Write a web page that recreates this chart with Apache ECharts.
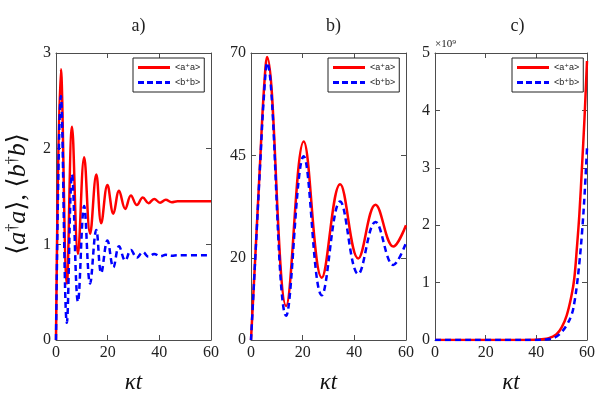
<!DOCTYPE html>
<html>
<head>
<meta charset="utf-8">
<script src="https://cdn.jsdelivr.net/npm/echarts@6/dist/echarts.min.js"></script>
<style>
  html, body { margin: 0; padding: 0; background: #fff; }
  #chart { width: 598px; height: 399px; }
</style>
</head>
<body>
<div id="chart"></div>
<script>
// panel a) -- times (kappa t) and populations
const tA = [0, 1.9, 4.2, 6.2, 8.5, 10.9, 13.2, 15.6, 17.5, 19.9, 22.2, 24.4, 26.8, 29.0, 31.3, 33.6, 35.8, 38.0, 40.3, 42.5, 44.8, 47, 60]
const aA = [0, 2.83, 0.59, 2.23, 0.9, 1.91, 1.11, 1.73, 1.22, 1.62, 1.32, 1.56, 1.37, 1.51, 1.41, 1.49, 1.43, 1.475, 1.435, 1.465, 1.44, 1.45, 1.45]
const bA = [0, 2.55, 0.18, 1.73, 0.4, 1.4, 0.59, 1.15, 0.7, 1.04, 0.76, 0.98, 0.83, 0.94, 0.86, 0.92, 0.87, 0.9, 0.875, 0.89, 0.88, 0.885, 0.885]

// panel b)
const tB = [0, 1.7, 3.6, 4.9, 6.2, 13.6, 20.4, 27.4, 34.5, 41.5, 48.2, 55.1, 60]
const aB = [0, 20.8, 44.4, 60, 69, 8.3, 48.4, 15.2, 38, 19.9, 33, 22.8, 28]
const bB = [0, 20.5, 43.5, 58.5, 67.6, 5.9, 44.8, 10.9, 33.8, 16.1, 28.8, 18.3, 23.7]
const yTicksB = [0, 20, 45, 70]

// panel c) -- values in units of 1e9
const tC = [0, 10, 20, 30, 40, 44, 46, 48, 50, 52, 54, 55, 56, 57, 58, 59, 60]
const aC = [0, 0, 0, 0, 0.004, 0.02, 0.05, 0.1, 0.22, 0.43, 0.8, 1.08, 1.6, 2.2, 3.0, 3.85, 4.86]
const bC = [0, 0, 0, 0, 0.002, 0.01, 0.025, 0.06, 0.14, 0.26, 0.45, 0.65, 0.95, 1.35, 1.85, 2.5, 3.34]

const titles = ['a)', 'b)', 'c)']
const names = ['<a⁺a>', '<b⁺b>']

const serif = 'Liberation Serif, DejaVu Serif, serif'
const axisColor = '#4d4d4d'
const grids = [
  { left: 56, top: 53, width: 155, height: 298 },
  { left: 251, top: 53, width: 155, height: 298 },
  { left: 435, top: 53, width: 155, height: 298 }
]
const yMax = [3, 70, 5]

// legend samples: solid bar and dashed bar
const solidIcon = 'path://M0,0H32V3H0Z'
const dashIcon = 'path://M0,0H6V3H0Z M9,0H15V3H9Z M18,0H24V3H18Z M27,0H32V3H27Z'

const pairs = (t, v) => t.map((x, i) => [x, v[i]])

const chart = echarts.init(document.getElementById('chart'))

const xAxis = []
const yAxis = []
grids.forEach((g, i) => {
  const base = {
    gridIndex: i,
    type: 'value',
    min: 0,
    max: 60,
    interval: 20,
    axisLine: { onZero: false, lineStyle: { color: axisColor, width: 1 } },
    axisTick: { inside: true, length: 5, lineStyle: { color: axisColor } },
    splitLine: { show: false }
  }
  xAxis.push(Object.assign({}, base, {
    position: 'bottom',
    axisLabel: { color: '#222', fontFamily: serif, fontSize: 16, margin: 5 },
    name: 'κt',
    nameLocation: 'middle',
    nameGap: 31,
    nameTextStyle: { color: '#111', fontFamily: serif, fontStyle: 'italic', fontSize: 23 }
  }))
  xAxis.push(Object.assign({}, base, { position: 'top', axisLabel: { show: false } }))

  const ybase = {
    gridIndex: i,
    type: 'value',
    min: 0,
    max: yMax[i],
    axisLine: { show: true, onZero: false, lineStyle: { color: axisColor, width: 1 } },
    axisTick: { show: true, inside: true, length: 5, lineStyle: { color: axisColor } },
    splitLine: { show: false }
  }
  if (i === 1) {
    ybase.axisTick.customValues = yTicksB
  } else {
    ybase.interval = 1
  }
  const leftLabel = { color: '#222', fontFamily: serif, fontSize: 16, margin: 5 }
  if (i === 1) leftLabel.customValues = yTicksB
  yAxis.push(Object.assign({}, ybase, { position: 'left', axisLabel: leftLabel }))
  yAxis.push(Object.assign({}, ybase, { position: 'right', axisLabel: { show: false } }))
})

const data = [[tA, aA, bA], [tB, aB, bB], [tC, aC, bC]]
const series = []
data.forEach((d, i) => {
  series.push({
    name: names[0],
    type: 'line',
    xAxisIndex: i * 2,
    yAxisIndex: i * 2,
    data: pairs(d[0], d[1]),
    symbol: 'none',
    smooth: 0.4,
    lineStyle: { color: '#ff0000', width: 2.5 },
    itemStyle: { color: '#ff0000' },
    animation: false
  })
  series.push({
    name: names[1],
    type: 'line',
    xAxisIndex: i * 2,
    yAxisIndex: i * 2,
    data: pairs(d[0], d[2]),
    symbol: 'none',
    smooth: 0.4,
    lineStyle: { color: '#0000ff', width: 2.5, type: [6, 4] },
    itemStyle: { color: '#0000ff' },
    animation: false
  })
})

chart.setOption({
  backgroundColor: '#fff',
  title: grids.map((g, i) => ({
    text: titles[i],
    left: g.left + g.width / 2,
    top: 12,
    textAlign: 'center',
    textStyle: { fontFamily: serif, fontWeight: 'normal', fontSize: 18, color: '#222' }
  })),
  legend: grids.map((g, i) => ({
    orient: 'vertical',
    left: g.left + g.width - 78,
    top: 58,
    data: [{ name: names[0], icon: solidIcon }, { name: names[1], icon: dashIcon }],
    selectedMode: false,
    backgroundColor: '#fff',
    borderColor: '#222',
    borderWidth: 1,
    borderRadius: 0,
    padding: [5, 4, 5, 5],
    itemGap: 6,
    itemWidth: 32,
    itemHeight: 10,
    textStyle: { fontFamily: 'Liberation Sans, DejaVu Sans, sans-serif', fontSize: 9, color: '#222' }
  })),
  grid: grids,
  xAxis: xAxis,
  yAxis: yAxis,
  series: series,
  graphic: [
    {
      type: 'text',
      x: 18,
      y: 194,
      rotation: Math.PI / 2,
      style: {
        text: '⟨{i|a}{s|†}{i|a}⟩, ⟨{i|b}{s|†}{i|b}⟩',
        font: '26px ' + serif,
        fill: '#111',
        textAlign: 'center',
        textVerticalAlign: 'middle',
        rich: {
          i: { fontStyle: 'italic', fontSize: 26, fontFamily: serif },
          s: { fontSize: 16, fontFamily: serif, verticalAlign: 'top' }
        }
      }
    },
    {
      type: 'text',
      x: 435,
      y: 44,
      style: {
        text: '×10⁹',
        font: '11px ' + serif,
        fill: '#222',
        textAlign: 'left',
        textVerticalAlign: 'middle'
      }
    }
  ]
})
</script>
</body>
</html>
